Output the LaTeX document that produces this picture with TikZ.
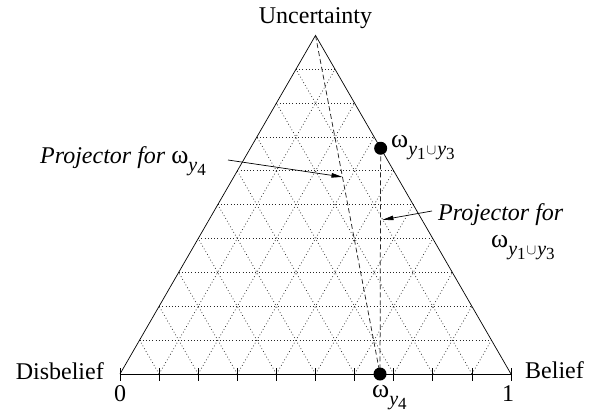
\documentclass[tikz,border=0pt]{standalone}
\usepackage{fontspec}
\setmainfont{Liberation Serif}
\usetikzlibrary{arrows.meta,calc}
\newcommand{\sy}[1]{\raisebox{-8pt}{\fontsize{20}{20}\selectfont\itshape y\raisebox{-4pt}{\upshape\fontsize{17}{17}\selectfont #1}}}
\newcommand{\cupsub}{\raisebox{-7pt}{\fontsize{15}{15}\selectfont$\cup$}}
\newcommand{\omA}{{\fontsize{26}{28}\selectfont ω}\sy{4}}
\newcommand{\omB}{{\fontsize{26}{28}\selectfont ω}\sy{1}\kern1pt\cupsub\kern1pt\sy{3}}
\tikzset{
  every node/.style={font=\fontsize{24}{28}\selectfont, inner sep=0pt},
  grid/.style={black!85, line width=0.7pt, dash pattern=on 0.8pt off 2.4pt},
  edge/.style={black, line width=0.7pt},
  tick/.style={black, line width=0.7pt},
  proj/.style={black!85, line width=0.75pt, dash pattern=on 5pt off 3pt},
  dot/.style={circle, fill=black, minimum size=13pt, inner sep=0pt},
  arr/.style={black, line width=0.7pt, -{Triangle[length=11pt,width=4.5pt]}}
}
\begin{document}
\begin{tikzpicture}[x=1pt,y=-1pt]
\useasboundingbox (0,0) rectangle (589,416);
\coordinate (D) at (120,374);
\coordinate (B) at (511,374);
\coordinate (U) at (315.5,35.4);
% grid
\foreach \i in {1,...,9}{
  \pgfmathsetmacro\a{\i/10}
  \pgfmathsetmacro\c{1-\i/10}
  \draw[grid] (barycentric cs:D=\c,U=\a) -- (barycentric cs:B=\c,U=\a);
  \draw[grid] (barycentric cs:D=\c,B=\a) -- (barycentric cs:U=\c,B=\a);
  \draw[grid] (barycentric cs:B=\c,D=\a) -- (barycentric cs:U=\c,D=\a);
}
% triangle
\draw[edge] (D) -- (U) -- (B);
\draw[edge, line width=1pt] (D) -- (B);
\foreach \i in {0,...,10}{
  \draw[tick] ($(D)!\i/10!(B)$) ++(0,-6) -- ++(0,13);
}
% opinions
\coordinate (W4) at ($(D)!0.665!(B)$);
\coordinate (W13) at (barycentric cs:B=0.3333,U=0.6667);
\draw[proj] (U) -- (W4);
\draw[proj] (W13) -- (W4);
\node[dot] (w4) at (W4) {};
\node[dot] (w13) at (W13) {};
% labels
\node[anchor=base] (tU) at (315.5,23) {Uncertainty};
\node[anchor=base east] (tD) at (104,379) {Disbelief};
\node[anchor=base west] (tB) at (525,378) {Belief};
\node[anchor=base] (t0) at (120,401) {0};
\node[anchor=base] (t1) at (508,401) {1};
\node[anchor=base west] (lw4) at (372,397) {\omA};
\node[anchor=base west] (lw13) at (391,147) {\omB};
\node[anchor=base west] (tp4) at (40,163) {\itshape Projector for \upshape\omA};
\node[anchor=base west] (tp13a) at (438,220) {\itshape Projector for};
\node[anchor=base west] (tp13b) at (491,247) {\omB};
% arrows
\coordinate (a4s) at (228,160);
\coordinate (p4) at ($(U)!0.418!(W4)$);
\draw[arr] (a4s) -- (p4);
\coordinate (a13s) at (432,211);
\coordinate (p13) at ($(W13)!0.317!(W4)+(2,0)$);
\draw[arr] (a13s) -- (p13);
\end{tikzpicture}
\end{document}
